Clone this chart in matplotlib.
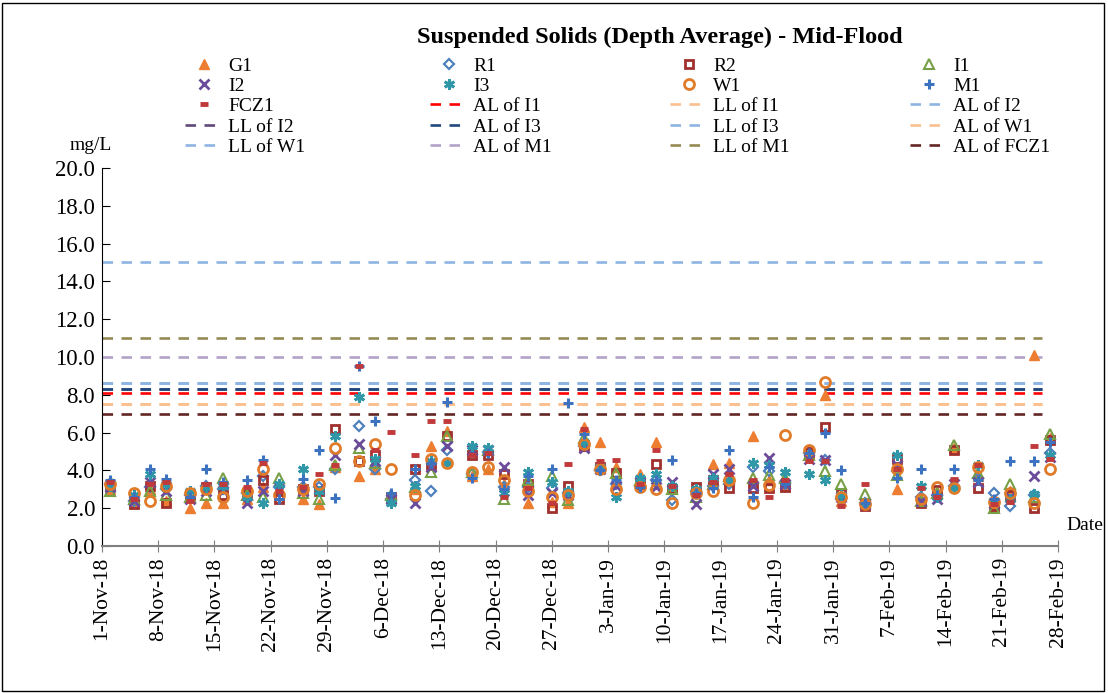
import matplotlib
matplotlib.use("Agg")
import matplotlib.pyplot as plt
from matplotlib.legend_handler import HandlerLine2D
from matplotlib.patches import Rectangle
import numpy as np
import datetime as dt

plt.rcParams['font.family'] = ['Liberation Serif', 'DejaVu Serif']

dates = ["2018-11-02", "2018-11-05", "2018-11-07", "2018-11-09", "2018-11-12", "2018-11-14",
         "2018-11-16", "2018-11-19", "2018-11-21", "2018-11-23", "2018-11-26", "2018-11-28",
         "2018-11-30", "2018-12-03", "2018-12-05", "2018-12-07", "2018-12-10", "2018-12-12",
         "2018-12-14", "2018-12-17", "2018-12-19", "2018-12-21", "2018-12-24", "2018-12-27",
         "2018-12-29", "2018-12-31", "2019-01-02", "2019-01-04", "2019-01-07", "2019-01-09",
         "2019-01-11", "2019-01-14", "2019-01-16", "2019-01-18", "2019-01-21", "2019-01-23",
         "2019-01-25", "2019-01-28", "2019-01-30", "2019-02-01", "2019-02-04", "2019-02-08",
         "2019-02-11", "2019-02-13", "2019-02-15", "2019-02-18", "2019-02-20", "2019-02-22",
         "2019-02-25", "2019-02-27"]

G1 = [3.0, 2.3, 3.0, 2.4, 2.0, 2.3, 2.3, 2.5, 3.1, 3.0, 2.5, 2.2, 4.2, 3.7, 4.1, 2.6, 3.0, 5.3, 6.1, 3.7,
      4.1, 3.3, 2.3, 2.35, 2.3, 6.3, 5.5, 4.2, 3.8, 5.5, 3.1, 2.9, 4.35, 4.4, 5.8, 3.5, 3.2, 4.9, 8.0, 2.4,
      2.2, 3.0, 2.5, 2.9, 5.2, 3.7, 2.1, 2.9, 10.1, 5.7]
R1 = [3.3, 2.4, 3.1, 3.0, 2.7, 3.2, 3.0, 2.8, 3.7, 3.1, 3.1, 3.1, 4.1, 6.35, 4.1, 2.5, 3.5, 2.9, 5.1, 3.8,
      5.0, 3.1, 3.1, 3.05, 2.8, 5.3, 4.0, 3.3, 3.2, 3.5, 2.45, 2.9, 3.2, 3.3, 4.2, 3.95, 3.4, 4.9, 4.55, 2.5,
      2.3, 3.95, 2.6, 2.7, 3.15, 3.6, 2.8, 2.1, 2.7, 4.9]
R2 = [3.2, 2.2, 3.2, 2.3, 2.7, 3.1, 2.7, 2.7, 3.5, 2.5, 3.0, 2.9, 6.2, 4.5, 4.8, 2.6, 4.1, 4.3, 5.8, 4.8,
      4.8, 3.8, 3.3, 2.0, 3.2, 5.3, 4.2, 3.85, 3.3, 4.35, 3.0, 3.1, 3.5, 3.05, 3.05, 3.05, 3.1, 5.0, 6.3, 2.8,
      2.1, 4.6, 2.3, 2.95, 5.1, 3.05, 2.1, 2.7, 2.0, 5.6]
I1 = [2.9, 2.5, 2.9, 2.7, 2.6, 2.7, 3.6, 2.7, 2.6, 3.6, 2.8, 2.5, 4.3, 5.2, 4.4, 2.7, 3.1, 3.9, 5.8, 3.9,
      5.1, 2.5, 3.5, 3.7, 2.45, 5.7, 4.3, 3.85, 3.5, 3.3, 3.0, 2.6, 3.3, 3.7, 3.6, 3.75, 3.6, 4.8, 3.95, 3.3,
      2.75, 3.75, 2.4, 2.8, 5.35, 3.85, 2.0, 3.3, 2.6, 5.9]
I2 = [3.1, 2.4, 3.4, 2.9, 2.5, 2.9, 2.9, 2.3, 2.9, 3.0, 2.9, 3.0, 4.8, 5.4, 4.5, 2.5, 2.3, 4.2, 5.3, 5.1,
      5.1, 4.2, 2.7, 2.8, 2.7, 5.2, 4.1, 3.2, 3.4, 3.1, 3.4, 2.2, 3.8, 4.05, 3.15, 4.65, 3.3, 4.6, 4.55, 2.6,
      2.2, 4.3, 2.4, 2.5, 3.3, 3.4, 2.3, 2.6, 3.7, 4.7]
I3 = [3.2, 2.7, 3.8, 3.3, 2.9, 3.1, 3.2, 2.6, 2.3, 3.3, 4.05, 2.9, 5.8, 7.9, 4.6, 2.3, 3.2, 4.5, 4.4, 5.3,
      5.2, 2.8, 3.9, 3.4, 2.9, 5.5, 4.2, 2.6, 3.6, 3.8, 3.2, 3.0, 3.6, 3.5, 4.4, 4.3, 3.9, 3.8, 3.5, 2.7,
      2.2, 4.8, 3.2, 2.6, 3.05, 4.3, 2.4, 2.5, 2.75, 4.8]
W1 = [3.3, 2.8, 2.4, 3.2, 2.8, 3.0, 2.6, 2.9, 4.05, 2.7, 3.0, 3.3, 5.2, 4.5, 5.4, 4.05, 2.7, 4.6, 4.4, 3.9,
      4.2, 3.5, 2.9, 2.6, 2.7, 5.4, 4.1, 3.0, 3.1, 3.0, 2.3, 2.8, 2.9, 3.5, 2.3, 3.25, 5.85, 5.1, 8.7, 2.6,
      2.2, 4.1, 2.5, 3.1, 3.05, 4.2, 2.35, 2.8, 2.25, 4.1]
M1 = [3.5, 2.6, 4.05, 3.55, 2.6, 4.05, 3.4, 3.5, 4.55, 2.5, 3.55, 5.1, 2.55, 9.5, 6.6, 2.8, 4.05, 4.4, 7.6, 3.6,
      4.9, 3.0, 3.7, 4.05, 7.55, 5.9, 4.0, 3.5, 3.1, 3.5, 4.55, 2.8, 3.05, 5.1, 2.6, 4.2, 3.3, 4.9, 6.0, 4.0,
      2.3, 3.6, 4.05, 2.7, 4.05, 3.5, 2.5, 4.5, 4.5, 5.5]
FCZ1 = [3.4, 2.5, 3.3, 3.4, 2.4, 3.3, 3.3, 3.1, 4.4, 2.9, 3.1, 3.8, 4.3, 9.55, 5.1, 6.05, 4.8, 6.6, 6.6, 4.8,
        4.9, 2.6, 3.05, 2.3, 4.35, 6.2, 4.5, 4.55, 3.3, 5.1, 3.2, 2.7, 3.4, 3.8, 3.5, 2.6, 3.5, 4.5, 4.5, 2.1,
        3.3, 4.1, 3.05, 2.6, 3.55, 4.3, 2.2, 2.35, 5.3, 4.6]

limit_names = ["AL of I1", "LL of I1", "AL of I2", "LL of I2", "AL of I3", "LL of I3",
               "AL of W1", "LL of W1", "AL of M1", "LL of M1", "AL of FCZ1"]
limit_values = [8.1, 7.5, 8.6, 8.3, 8.3, 8.6, 7.5, 15.0, 10.0, 11.0, 7.0]
limit_colors = ["#FF0000", "#FAC090", "#8DB4E2", "#60497A", "#1F497D", "#8DB4E2",
                "#FAC090", "#8DB4E2", "#B3A2C7", "#948A54", "#632523"]
limit_span = ["2018-11-01", "2019-02-26"]

series_names = ["G1", "R1", "R2", "I1", "I2", "I3", "W1", "M1", "FCZ1"]
series_values = [G1, R1, R2, I1, I2, I3, W1, M1, FCZ1]
styles = {
    "G1": dict(marker="^", ms=7.5, mfc="#ED7D31", mec="#ED7D31", mew=1.0),
    "R1": dict(marker="D", ms=5.2, mfc="none", mec="#4F81BD", mew=1.6),
    "R2": dict(marker="s", ms=6.2, mfc="none", mec="#A0302E", mew=2.0),
    "I1": dict(marker="^", ms=7.2, mfc="none", mec="#77A046", mew=1.5),
    "I2": dict(marker="x", ms=6.8, mfc="none", mec="#6B4C9A", mew=2.0),
    "I3": dict(marker=(6, 2, 0), ms=7.8, mfc="none", mec="#2F97A8", mew=2.0),
    "W1": dict(marker="o", ms=7.2, mfc="none", mec="#E07B2A", mew=2.0),
    "M1": dict(marker="+", ms=7.8, mfc="none", mec="#3C72C0", mew=2.2),
    "FCZ1": dict(marker="_", ms=6, mfc="none", mec="#C0393B", mew=3.5),
}


class MarkerRight(HandlerLine2D):
    def get_xdata(self, legend, xdescent, ydescent, width, height, fontsize):
        xdata, _ = super().get_xdata(legend, xdescent, ydescent, width, height, fontsize)
        return xdata, np.array([-xdescent + 0.76 * width])


W, H = 1108, 693
fig = plt.figure(figsize=(W / 100, H / 100), dpi=100)
ax = fig.add_axes([102 / W, 1 - 546 / H, (1058 - 102) / W, (546 - 168) / H])

x = [dt.datetime.strptime(d, "%Y-%m-%d") for d in dates]
handles = []
for name, vals in zip(series_names, series_values):
    st = styles[name]
    h, = ax.plot(x, vals, linestyle="none", marker=st["marker"], markersize=st["ms"],
                 markerfacecolor=st["mfc"], markeredgecolor=st["mec"], markeredgewidth=st["mew"],
                 label=name, zorder=3)
    handles.append(h)

xs = [dt.datetime.strptime(d, "%Y-%m-%d") for d in limit_span]
for name, val, col in zip(limit_names, limit_values, limit_colors):
    h, = ax.plot(xs, [val, val], color=col, lw=1.9, dashes=(4, 3.2), label=name, zorder=2)
    handles.append(h)

ax.set_xlim(dt.datetime(2018, 11, 1), dt.datetime(2019, 2, 28))
ax.set_ylim(0, 20)
ax.set_yticks([0, 2, 4, 6, 8, 10, 12, 14, 16, 18, 20])
ax.yaxis.set_major_formatter(matplotlib.ticker.FormatStrFormatter("%.1f"))
ticks = [dt.datetime(2018, 11, 1) + dt.timedelta(days=7 * i) for i in range(18)]
ax.set_xticks(ticks)
ax.set_xticklabels([f"{t.day}-{t.strftime('%b-%y')}" for t in ticks], rotation=90)
for s in ["top", "right"]:
    ax.spines[s].set_visible(False)
ax.spines["left"].set_color("black")
ax.spines["bottom"].set_color("#7F7F7F")
ax.spines["bottom"].set_linewidth(1.5)
ax.tick_params(axis="y", direction="in", length=6, labelsize=16.5, pad=5)
ax.tick_params(axis="x", direction="inout", length=8, labelsize=15.5, pad=4, color="#7F7F7F")

fig.text(660 / W, 1 - 37 / H, "Suspended Solids (Depth Average) - Mid-Flood", ha="center", va="center",
         fontsize=17.5, fontweight="bold")
fig.text(91 / W, 1 - 145 / H, "mg/L", ha="center", va="center", fontsize=14)
fig.text(1085 / W, 1 - 525 / H, "Date", ha="center", va="center", fontsize=14)

text_x = [228, 473, 713, 953]
fs = 14
fs_px = fs * 100 / 72
hl, hp = 1.9, 0.3
for c in range(4):
    idx = [r * 4 + c for r in range(5)]
    hs = [handles[i] for i in idx]
    left = text_x[c] - (hl + hp) * fs_px
    lg = fig.legend(hs, [h.get_label() for h in hs], loc="upper left",
                    bbox_to_anchor=(left / W, 1 - 57 / H), frameon=False, fontsize=fs,
                    handlelength=hl, handletextpad=hp, labelspacing=0.14, numpoints=1,
                    borderaxespad=0, borderpad=0,
                    handler_map={h: MarkerRight() for h in hs if h.get_linestyle() == "None"})

fig.add_artist(Rectangle((2 / W, 2 / H), (W - 6) / W, (H - 5) / H, transform=fig.transFigure,
                         fill=False, edgecolor="black", lw=1.0))

fig.savefig("out.png", dpi=100)
